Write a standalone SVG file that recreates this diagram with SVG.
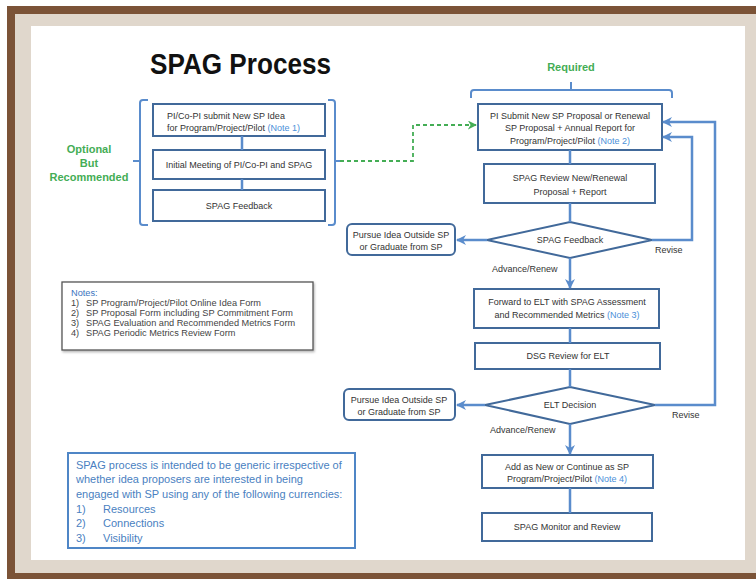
<svg xmlns="http://www.w3.org/2000/svg" width="756" height="579" viewBox="0 0 756 579">
<defs>
<style>
text{font-family:"Liberation Sans",Arial,sans-serif}
.t{font-size:9px;fill:#333}
.c{text-anchor:middle}
.nt{fill:#4a90d9}
.box{fill:#fff;stroke:#41699a;stroke-width:2}
.con{fill:none;stroke:#5a8ccc;stroke-width:2.5}
.br{fill:none;stroke:#5a8ccc;stroke-width:2}
.grn{fill:#44ad55;font-weight:bold}
.blue{fill:#4a7fc1;font-size:11px}
.note{font-size:9.2px;fill:#444}
</style>
<marker id="ab" viewBox="0 0 10 10" refX="9" refY="5" markerWidth="10" markerHeight="10" markerUnits="userSpaceOnUse" orient="auto">
<path d="M0,0 L10,5 L0,10 L3,5 z" fill="#5a8ccc"/>
</marker>
<marker id="ag" viewBox="0 0 10 10" refX="9" refY="5" markerWidth="9" markerHeight="9" markerUnits="userSpaceOnUse" orient="auto">
<path d="M0,0 L10,5 L0,10 L3,5 z" fill="#44ad55"/>
</marker>
<filter id="sh" x="-5%" y="-10%" width="110%" height="130%">
<feDropShadow dx="1" dy="1.5" stdDeviation="1" flood-color="#000" flood-opacity="0.3"/>
</filter>
</defs>

<!-- frame -->
<rect x="7" y="6" width="749" height="573" fill="#7b5337"/>
<rect x="15" y="14" width="741" height="559" fill="#e0d7cc"/>
<rect x="31" y="26" width="714" height="534" fill="#fff"/>

<text x="240.5" y="74" text-anchor="middle" font-size="29" font-weight="bold" fill="#111" textLength="181" lengthAdjust="spacingAndGlyphs">SPAG Process</text>

<!-- optional group -->
<g id="optional-label">
<text class="grn c" x="89" y="153" font-size="11">Optional</text>
<text class="grn c" x="89" y="167" font-size="11">But</text>
<text class="grn c" x="89" y="181" font-size="11">Recommended</text>
</g>
<g id="optional-bracket">
<path class="br" d="M148,100 H143 Q140,100 140,103 V222 Q140,225 143,225 H148 M140,161 H133"/>
<path class="br" d="M328,100 H332 Q335,100 335,103 V222 Q335,225 332,225 H328 M335,161 H340"/>
</g>
<g id="idea">
<rect class="box" x="153" y="104" width="172" height="32"/>
<text class="t" x="167" y="119">PI/Co-PI submit New SP Idea</text>
<text class="t" x="167" y="131">for Program/Project/Pilot <tspan class="nt">(Note 1)</tspan></text>
</g>
<g id="meeting">
<rect class="box" x="153" y="150" width="172" height="29"/>
<text class="t c" x="239" y="168">Initial Meeting of PI/Co-PI and SPAG</text>
</g>
<g id="feedback-opt">
<rect class="box" x="153" y="190" width="172" height="31"/>
<text class="t c" x="239" y="209">SPAG Feedback</text>
</g>

<!-- required -->
<g id="required-label">
<text class="grn c" x="571" y="71" font-size="11">Required</text>
<path class="br" d="M471,98 V93 Q471,90 474,90 H669 Q672,90 672,93 V98 M571,90 V82"/>
</g>
<g id="submit">
<rect class="box" x="478" y="104" width="184" height="46"/>
<text class="t c" x="570" y="119">PI Submit New SP Proposal or Renewal</text>
<text class="t c" x="570" y="131">SP Proposal + Annual Report for</text>
<text class="t c" x="570" y="144">Program/Project/Pilot <tspan class="nt">(Note 2)</tspan></text>
</g>
<g id="review">
<rect class="box" x="484" y="164" width="171" height="39"/>
<text class="t c" x="570" y="181">SPAG Review New/Renewal</text>
<text class="t c" x="570" y="195">Proposal + Report</text>
</g>
<g id="spag-feedback">
<polygon class="box" points="570,222 652,240 570,258 487,240"/>
<text class="t c" x="570" y="243">SPAG Feedback</text>
</g>
<g id="pursue1">
<rect class="box" x="347" y="224" width="108" height="31" rx="5"/>
<text class="t c" x="401" y="238">Pursue Idea Outside SP</text>
<text class="t c" x="401" y="250">or Graduate from SP</text>
</g>
<g id="forward">
<rect class="box" x="474" y="289" width="185" height="39"/>
<text class="t c" x="567" y="305">Forward to ELT with SPAG Assessment</text>
<text class="t c" x="567" y="318">and Recommended Metrics <tspan class="nt">(Note 3)</tspan></text>
</g>
<g id="dsg">
<rect class="box" x="475" y="343" width="185" height="26"/>
<text class="t c" x="568" y="359">DSG Review for ELT</text>
</g>
<g id="elt">
<polygon class="box" points="570,387 655,405 570,424 485,405"/>
<text class="t c" x="570" y="408">ELT Decision</text>
</g>
<g id="pursue2">
<rect class="box" x="344" y="389" width="111" height="31" rx="5"/>
<text class="t c" x="399" y="403">Pursue Idea Outside SP</text>
<text class="t c" x="399" y="415">or Graduate from SP</text>
</g>
<g id="add">
<rect class="box" x="482" y="455" width="171" height="33"/>
<text class="t c" x="567" y="470">Add as New or Continue as SP</text>
<text class="t c" x="567" y="482">Program/Project/Pilot <tspan class="nt">(Note 4)</tspan></text>
</g>
<g id="monitor">
<rect class="box" x="482" y="513" width="170" height="28"/>
<text class="t c" x="567" y="530">SPAG Monitor and Review</text>
</g>

<!-- connectors -->
<g id="connectors">
<path class="con" d="M242,136 V150 M242,179 V190"/>
<path d="M340,161 H413 V125 H476" fill="none" stroke="#44ad55" stroke-width="1.8" stroke-dasharray="4 3" marker-end="url(#ag)"/>
<path class="con" d="M570,150 V164 M570,203 V222 M570,328 V343 M570,369 V387 M570,488 V513"/>
<path class="con" d="M487,240 H457" marker-end="url(#ab)"/>
<path class="con" d="M570,258 V288" marker-end="url(#ab)"/>
<path class="con" d="M652,240 H692 V137 H663" marker-end="url(#ab)"/>
<path class="con" d="M485,405 H457" marker-end="url(#ab)"/>
<path class="con" d="M655,405 H715 V122 H663" marker-end="url(#ab)"/>
<path class="con" d="M570,424 V454" marker-end="url(#ab)"/>
<text class="t" x="492" y="272">Advance/Renew</text>
<text class="t" x="655" y="253">Revise</text>
<text class="t" x="490" y="433">Advance/Renew</text>
<text class="t" x="672" y="418">Revise</text>
</g>

<!-- notes -->
<g id="notes">
<rect x="62" y="282" width="251" height="68" fill="#fff" stroke="#555" stroke-width="1.3" filter="url(#sh)"/>
<text class="note" x="71" y="296" style="fill:#3b74c0">Notes:</text>
<text class="note" x="71" y="306">1)</text><text class="note" x="86" y="306">SP Program/Project/Pilot Online Idea Form</text>
<text class="note" x="71" y="316">2)</text><text class="note" x="86" y="316">SP Proposal Form including SP Commitment Form</text>
<text class="note" x="71" y="326">3)</text><text class="note" x="86" y="326">SPAG Evaluation and Recommended Metrics Form</text>
<text class="note" x="71" y="336">4)</text><text class="note" x="86" y="336">SPAG Periodic Metrics Review Form</text>
</g>

<g id="currencies">
<rect x="68" y="453" width="287" height="95" fill="#fff" stroke="#4f86c6" stroke-width="2"/>
<text class="blue" x="76" y="469">SPAG process is intended to be generic irrespective of</text>
<text class="blue" x="76" y="483">whether idea proposers are interested in being</text>
<text class="blue" x="76" y="498">engaged with SP using any of the following currencies:</text>
<text class="blue" x="76" y="513">1)</text><text class="blue" x="103" y="513">Resources</text>
<text class="blue" x="76" y="527">2)</text><text class="blue" x="103" y="527">Connections</text>
<text class="blue" x="76" y="542">3)</text><text class="blue" x="103" y="542">Visibility</text>
</g>
</svg>
